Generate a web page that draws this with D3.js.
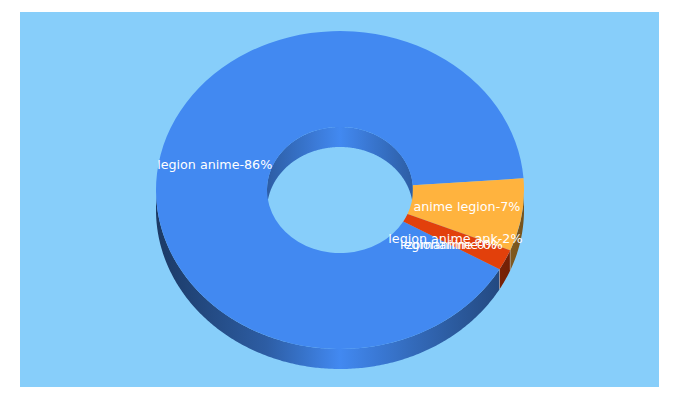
<!DOCTYPE html>
<html>
<head>
<meta charset="utf-8">
<script src="https://cdn.jsdelivr.net/npm/d3@7"></script>
<style>
  body { margin: 0; background: #fff; }
  text { font-family: "DejaVu Sans", sans-serif; font-size: 12.7px; fill: #fff; text-anchor: middle; }
</style>
</head>
<body>
<script>
// Data
const keywords = ["legion anime", "anime legion", "legion anime apk", "legionanime", "zomanime"];
const shares = [86, 7, 2, 0, 0];
const sliceColors = ["#4289f1", "#ffb33e", "#e2400b", "#4289f1", "#4289f1"];

// Layout
const width = 680, height = 400;
const panel = {x: 20, y: 12, width: 639, height: 375};
const cx = 340, cy = 190;
const rx = 184, ry = 159, holeRx = 73, holeRy = 63;
const depth = 20;
const startAngle = 119.9 * Math.PI / 180;
const PI = Math.PI;

const svg = d3.select('body').append('svg')
  .attr('width', width)
  .attr('height', height)
  .style('display', 'block');

svg.append('rect')
  .attr('x', panel.x).attr('y', panel.y)
  .attr('width', panel.width).attr('height', panel.height)
  .attr('fill', '#87cefa');

const slices = d3.pie().sort(null).startAngle(startAngle).endAngle(startAngle + 2 * PI)(shares);

// Side walls are darker towards the left and right ends
const outerShade = d3.scaleLinear().domain([0, 0.12, 0.3, 0.5, 0.72, 0.93, 1]).range([0.42, 0.52, 0.68, 1, 0.75, 0.54, 0.46]);
const innerShade = d3.scaleLinear().domain([0, 0.5, 1]).range([0.68, 1, 0.68]);
const defs = svg.append('defs');

function addGradient(id, color, shade, x0, x1) {
  const g = defs.append('linearGradient')
    .attr('id', id)
    .attr('gradientUnits', 'userSpaceOnUse')
    .attr('x1', x0).attr('x2', x1).attr('y1', 0).attr('y2', 0);
  g.selectAll('stop')
    .data(d3.range(0, 1.001, 0.05))
    .join('stop')
    .attr('offset', d => d)
    .attr('stop-color', d => {
      const c = d3.rgb(color), k = shade(d);
      return d3.rgb(c.r * k, c.g * k, c.b * k).formatHex();
    });
}

sliceColors.forEach((c, i) => {
  addGradient('outer' + i, c, outerShade, cx - rx, cx + rx);
  addGradient('inner' + i, c, innerShade, cx - holeRx, cx + holeRx);
});

// Wall band between a0 and a1, on an ellipse of radii a, b
function wallPath(a0, a1, a, b) {
  const n = Math.max(2, Math.ceil((a1 - a0) / 0.01));
  const ang = d3.range(n + 1).map(i => a0 + (a1 - a0) * i / n);
  const upper = ang.map(t => [cx + a * Math.sin(t), cy - b * Math.cos(t)]);
  const lower = upper.slice().reverse().map(p => [p[0], p[1] + depth]);
  return d3.line()(upper.concat(lower)) + 'Z';
}

// Part of a slice inside a visible angle range
function clipRange(s, lo, hi) {
  const a0 = Math.max(s.startAngle, lo), a1 = Math.min(s.endAngle, hi);
  return a1 > a0 ? [a0, a1] : null;
}

const outerWalls = svg.append('g').classed('outer-walls', true);
const innerWalls = svg.append('g').classed('inner-walls', true);

slices.forEach((s, i) => {
  // the front half of the outer rim
  [[PI / 2, 3 * PI / 2], [5 * PI / 2, 7 * PI / 2]].forEach(range => {
    const r = clipRange(s, range[0], range[1]);
    if (r) outerWalls.append('path').attr('d', wallPath(r[0], r[1], rx, ry)).attr('fill', `url(#outer${i})`);
  });
  // the back half of the hole
  const r = clipRange(s, 3 * PI / 2, 5 * PI / 2);
  if (r) innerWalls.append('path').attr('d', wallPath(r[0], r[1], holeRx, holeRy)).attr('fill', `url(#inner${i})`);
});

// thin light seams on the rim where slices meet
slices.filter(s => s.value > 0 && s.index > 0).forEach(s => {
  const x = cx + rx * Math.sin(s.endAngle), y = cy - ry * Math.cos(s.endAngle);
  outerWalls.append('line')
    .attr('x1', x).attr('x2', x).attr('y1', y).attr('y2', y + depth)
    .attr('stroke', '#fff').attr('stroke-opacity', 0.35);
});

// Top face, drawn on a circle and squashed into the ellipse
const arc = d3.arc().innerRadius(holeRx).outerRadius(rx);
const topFace = svg.append('g')
  .attr('transform', `translate(${cx},${cy}) scale(1,${ry / rx})`);
topFace.selectAll('path')
  .data(slices.filter(s => s.value > 0))
  .join('path')
  .attr('d', arc)
  .attr('fill', d => sliceColors[d.index]);

// Labels sit at the middle of each slice
svg.append('g').selectAll('text')
  .data(slices)
  .join('text')
  .attr('x', d => cx + arc.centroid(d)[0])
  .attr('y', d => cy + arc.centroid(d)[1] * ry / rx + 4)
  .text(d => keywords[d.index] + '-' + Math.round(d.value) + '%');
</script>
</body>
</html>
